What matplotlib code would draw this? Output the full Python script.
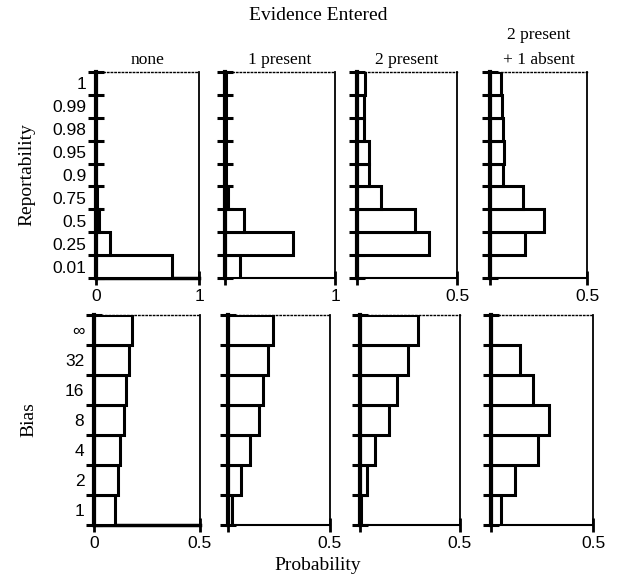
import matplotlib.pyplot as plt

# bins listed bottom to top
rep_labels = ['0.01', '0.25', '0.5', '0.75', '0.9', '0.95', '0.98', '0.99', '1']
bias_labels = ['1', '2', '4', '8', '16', '32', '\u221e']

panel_titles = ['none', '1 present', '2 present', '2 present\n+ 1 absent']

rep_none = [0.74, 0.14, 0.03, 0.01, 0.0, 0.0, 0.0, 0.0, 0.0]
rep_1present = [0.14, 0.62, 0.17, 0.03, 0.005, 0.005, 0.005, 0.005, 0.005]
rep_2present = [0.0, 0.36, 0.29, 0.12, 0.058, 0.058, 0.037, 0.037, 0.04]
rep_2p1a = [0.0, 0.18, 0.28, 0.17, 0.065, 0.07, 0.065, 0.06, 0.055]

bias_none = [0.098, 0.114, 0.121, 0.14, 0.15, 0.166, 0.177]
bias_1present = [0.021, 0.062, 0.11, 0.152, 0.172, 0.197, 0.221]
bias_2present = [0.005, 0.033, 0.075, 0.147, 0.187, 0.242, 0.288]
bias_2p1a = [0.049, 0.118, 0.232, 0.286, 0.208, 0.143, 0.0]

rep_xmax = [1, 1, 0.5, 0.5]
bias_xmax = [0.5, 0.5, 0.5, 0.5]

W, H = 622, 582
fig = plt.figure(figsize=(W / 100, H / 100), dpi=100)

serif = ['Liberation Serif', 'DejaVu Serif']
sans = ['Liberation Sans', 'DejaVu Sans']


def px_axes(x0, x1, ytop, ybot):
    return fig.add_axes([x0 / W, 1 - ybot / H, (x1 - x0) / W, (ybot - ytop) / H])


def draw_panel(ax, values, labels, xmax, col):
    n = len(values)
    pos = list(range(n))
    ax.barh(pos, values, height=1.0, left=0, color='white', edgecolor='black',
            linewidth=2.2, zorder=3)
    ax.set_xlim(0, xmax)
    ax.set_ylim(-0.5, n - 0.5)
    # bin boundary ticks
    ax.set_yticks([i - 0.5 for i in range(n + 1)])
    ax.set_yticklabels([])
    ax.tick_params(axis='y', which='major', direction='inout', length=11, width=2.2)
    ax.set_yticks(pos, minor=True)
    if col == 0:
        ax.set_yticklabels(labels, minor=True, family=sans, fontsize=12.5)
    else:
        ax.set_yticklabels([], minor=True)
    ax.tick_params(axis='y', which='minor', length=0, pad=7)
    ax.set_xticks([0, xmax])
    if col == 0:
        ax.set_xticklabels(['0', '{:g}'.format(xmax)], family=sans, fontsize=12.5)
    else:
        ax.set_xticklabels(['', '{:g}'.format(xmax)], family=sans, fontsize=12.5)
    ax.tick_params(axis='x', direction='inout', length=10, width=2, pad=3)
    ax.spines['left'].set_linewidth(3)
    ax.spines['left'].set_zorder(4)
    ax.spines['bottom'].set_linewidth(2.5 if col == 0 else 1.5)
    ax.spines['top'].set_linewidth(1.0)
    ax.spines['top'].set_linestyle(':')
    ax.spines['right'].set_linewidth(1.3)


top_cols = [(96, 199), (225, 335), (357, 457), (490, 587)]
bot_cols = [(94, 200), (228, 330), (360, 460), (491, 593)]

rep_data = [rep_none, rep_1present, rep_2present, rep_2p1a]
bias_data = [bias_none, bias_1present, bias_2present, bias_2p1a]

for i in range(4):
    ax = px_axes(top_cols[i][0], top_cols[i][1], 72, 278)
    draw_panel(ax, rep_data[i], rep_labels, rep_xmax[i], i)
    ax.set_title(panel_titles[i], family=serif, fontsize=12.5, pad=6, linespacing=1.7)
    if i == 0:
        ax.set_ylabel('Reportability', family=serif, fontsize=14, labelpad=12)

    ax = px_axes(bot_cols[i][0], bot_cols[i][1], 315, 525)
    draw_panel(ax, bias_data[i], bias_labels, bias_xmax[i], i)
    if i == 0:
        ax.set_ylabel('Bias', family=serif, fontsize=14, labelpad=20)

fig.text(318 / W, 1 - 16 / H, 'Evidence Entered', family=serif, fontsize=14,
         ha='center', va='center')
fig.text(318 / W, 1 - 566 / H, 'Probability', family=serif, fontsize=14,
         ha='center', va='center')

fig.savefig('out.png', dpi=100)
